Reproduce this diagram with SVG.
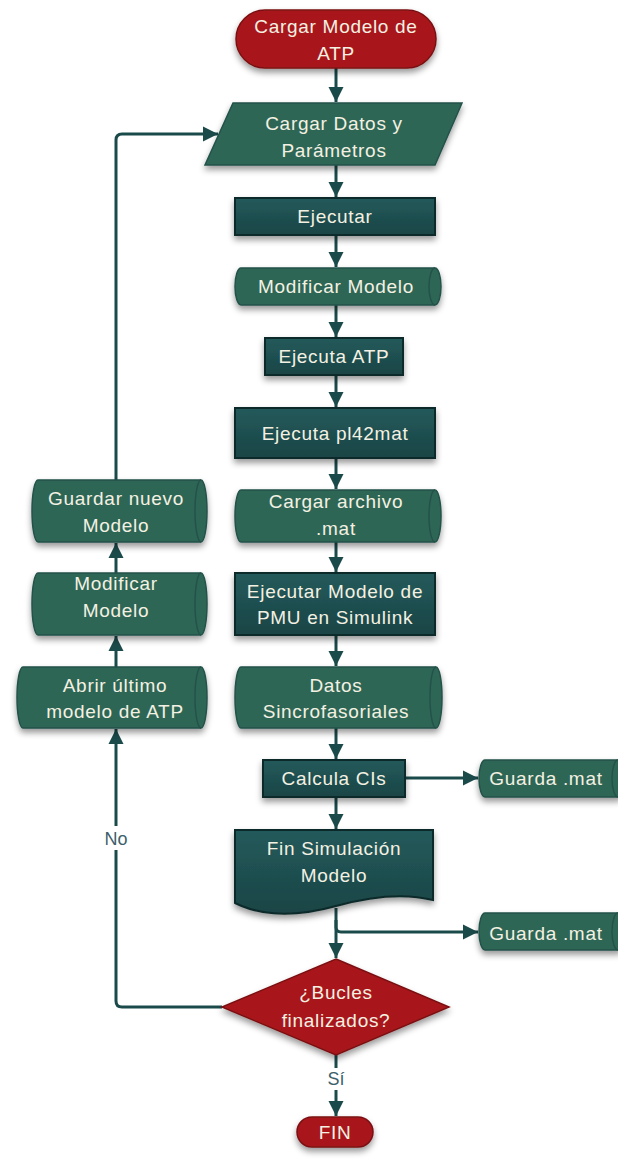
<svg xmlns="http://www.w3.org/2000/svg" width="618" height="1159" viewBox="0 0 618 1159">
<style>
  .txt { font-family: "Liberation Sans", Arial, sans-serif; font-size: 19px; fill: #F4F1E2; text-anchor: middle; letter-spacing: 0.7px; }
  .lbl { font-family: "Liberation Sans", Arial, sans-serif; font-size: 18px; fill: #3C606B; text-anchor: middle; }
  .red { fill: #A8191B; stroke: #7C1112; stroke-width: 1.5; filter: url(#sh); }
  .box { fill: url(#gbox); stroke: #0E2A2B; stroke-width: 2; filter: url(#sh); }
  .cyl { fill: #2F6657; stroke: #24524A; stroke-width: 1.5; filter: url(#sh); }
  .cap { fill: none; stroke: #24524A; stroke-width: 1.5; }
  .con { fill: none; stroke: #1B4A4A; stroke-width: 3; }
</style>
<defs>
  <linearGradient id="gbox" x1="0" y1="0" x2="0" y2="1">
    <stop offset="0" stop-color="#245A5B"/>
    <stop offset="1" stop-color="#1A4445"/>
  </linearGradient>
  <filter id="sh" x="-20%" y="-20%" width="140%" height="160%">
    <feDropShadow dx="0" dy="4" stdDeviation="3" flood-color="#000" flood-opacity="0.4"/>
  </filter>
  <marker id="ah" viewBox="0 0 10 10" refX="10" refY="5" markerUnits="userSpaceOnUse" markerWidth="15" markerHeight="17" orient="auto">
    <path d="M0,0 L10,5 L0,10 z" fill="#1B4A4A"/>
  </marker>
</defs>

<g id="connectors">
  <path class="con" d="M336,68 V102" marker-end="url(#ah)"/>
  <path class="con" d="M336,165 V197" marker-end="url(#ah)"/>
  <path class="con" d="M336,235 V267" marker-end="url(#ah)"/>
  <path class="con" d="M336,305 V337" marker-end="url(#ah)"/>
  <path class="con" d="M336,375 V407" marker-end="url(#ah)"/>
  <path class="con" d="M336,458 V489" marker-end="url(#ah)"/>
  <path class="con" d="M336,542 V572" marker-end="url(#ah)"/>
  <path class="con" d="M336,635 V666" marker-end="url(#ah)"/>
  <path class="con" d="M336,728 V759" marker-end="url(#ah)"/>
  <path class="con" d="M336,797 V829" marker-end="url(#ah)"/>
  <path class="con" d="M405,778 H478" marker-end="url(#ah)"/>
  <path class="con" d="M336,908 V958" marker-end="url(#ah)"/>
  <path class="con" d="M336,920 V927 Q336,932 341,932 H478" marker-end="url(#ah)"/>
  <path class="con" d="M336,1055 V1068"/>
  <path class="con" d="M336,1090 V1116" marker-end="url(#ah)"/>
  <path class="con" d="M222,1007 H122 Q116,1007 116,1001 V850"/>
  <path class="con" d="M116,826 V729" marker-end="url(#ah)"/>
  <path class="con" d="M116,667 V636" marker-end="url(#ah)"/>
  <path class="con" d="M116,573 V543" marker-end="url(#ah)"/>
  <path class="con" d="M116,480 V140 Q116,134 122,134 H218" marker-end="url(#ah)"/>
  <text class="lbl" x="336" y="1085">Sí</text>
  <text class="lbl" x="116" y="845">No</text>
</g>

<g id="start">
  <rect class="red" x="236" y="10" width="200" height="58" rx="29"/>
  <text class="txt" x="336" y="33">Cargar Modelo de</text>
  <text class="txt" x="336" y="60">ATP</text>
</g>

<g id="cargar-datos">
  <polygon class="cyl" points="233,103 462,103 435,165 205,165"/>
  <text class="txt" x="334" y="130">Cargar Datos y</text>
  <text class="txt" x="334" y="157">Parámetros</text>
</g>

<g id="ejecutar">
  <rect class="box" x="235" y="198" width="200" height="37"/>
  <text class="txt" x="335" y="223">Ejecutar</text>
</g>

<g id="modificar-modelo">
  <path class="cyl" d="M241,268 H435 A6,18.5 0 0 1 435,305 H241 A6,18.5 0 0 1 241,268 Z"/>
  <path class="cap" d="M435,268 A6,18.5 0 0 0 435,305"/>
  <text class="txt" x="336" y="293">Modificar Modelo</text>
</g>

<g id="ejecuta-atp">
  <rect class="box" x="265" y="338" width="138" height="37"/>
  <text class="txt" x="334" y="363">Ejecuta ATP</text>
</g>

<g id="ejecuta-pl42mat">
  <rect class="box" x="235" y="408" width="200" height="50"/>
  <text class="txt" x="335" y="440">Ejecuta pl42mat</text>
</g>

<g id="cargar-archivo">
  <path class="cyl" d="M241,490 H435 A6,26 0 0 1 435,542 H241 A6,26 0 0 1 241,490 Z"/>
  <path class="cap" d="M435,490 A6,26 0 0 0 435,542"/>
  <text class="txt" x="336" y="508">Cargar archivo</text>
  <text class="txt" x="336" y="535">.mat</text>
</g>

<g id="ejecutar-pmu">
  <rect class="box" x="235" y="573" width="200" height="62"/>
  <text class="txt" x="335" y="598">Ejecutar Modelo de</text>
  <text class="txt" x="335" y="624">PMU en Simulink</text>
</g>

<g id="datos-sincro">
  <path class="cyl" d="M241,667 H436 A6,30.5 0 0 1 436,728 H241 A6,30.5 0 0 1 241,667 Z"/>
  <path class="cap" d="M436,667 A6,30.5 0 0 0 436,728"/>
  <text class="txt" x="336" y="692">Datos</text>
  <text class="txt" x="336" y="718">Sincrofasoriales</text>
</g>

<g id="calcula-cis">
  <rect class="box" x="263" y="760" width="142" height="37"/>
  <text class="txt" x="334" y="785">Calcula CIs</text>
</g>

<g id="guarda-mat-1">
  <path class="cyl" d="M485,760 H618 A6,18.5 0 0 1 618,797 H485 A6,18.5 0 0 1 485,760 Z"/>
  <path class="cap" d="M618,760 A6,18.5 0 0 0 618,797"/>
  <text class="txt" x="546" y="785">Guarda .mat</text>
</g>

<g id="fin-simulacion">
  <path class="box" d="M235,830 H433 V900 C405,893 372,896 336,906 C300,916 265,918 235,903 Z"/>
  <text class="txt" x="334" y="855">Fin Simulación</text>
  <text class="txt" x="334" y="882">Modelo</text>
</g>

<g id="guarda-mat-2">
  <path class="cyl" d="M485,913 H618 A6,18.5 0 0 1 618,950 H485 A6,18.5 0 0 1 485,913 Z"/>
  <path class="cap" d="M618,913 A6,18.5 0 0 0 618,950"/>
  <text class="txt" x="546" y="940">Guarda .mat</text>
</g>

<g id="bucles">
  <polygon class="red" points="336,959 449,1007 336,1055 222,1007"/>
  <text class="txt" x="336" y="999">¿Bucles</text>
  <text class="txt" x="336" y="1027">finalizados?</text>
</g>

<g id="fin">
  <rect class="red" x="297" y="1117" width="76" height="30" rx="15"/>
  <text class="txt" x="335" y="1139">FIN</text>
</g>

<g id="guardar-nuevo">
  <path class="cyl" d="M38,480 H201 A6,31 0 0 1 201,542 H38 A6,31 0 0 1 38,480 Z"/>
  <path class="cap" d="M201,480 A6,31 0 0 0 201,542"/>
  <text class="txt" x="116" y="505">Guardar nuevo</text>
  <text class="txt" x="116" y="532">Modelo</text>
</g>

<g id="modificar-left">
  <path class="cyl" d="M38,573 H201 A6,31 0 0 1 201,635 H38 A6,31 0 0 1 38,573 Z"/>
  <path class="cap" d="M201,573 A6,31 0 0 0 201,635"/>
  <text class="txt" x="116" y="590">Modificar</text>
  <text class="txt" x="116" y="617">Modelo</text>
</g>

<g id="abrir-ultimo">
  <path class="cyl" d="M23,667 H201 A6,30.5 0 0 1 201,728 H23 A6,30.5 0 0 1 23,667 Z"/>
  <path class="cap" d="M201,667 A6,30.5 0 0 0 201,728"/>
  <text class="txt" x="115" y="692">Abrir último</text>
  <text class="txt" x="115" y="718">modelo de ATP</text>
</g>
</svg>
